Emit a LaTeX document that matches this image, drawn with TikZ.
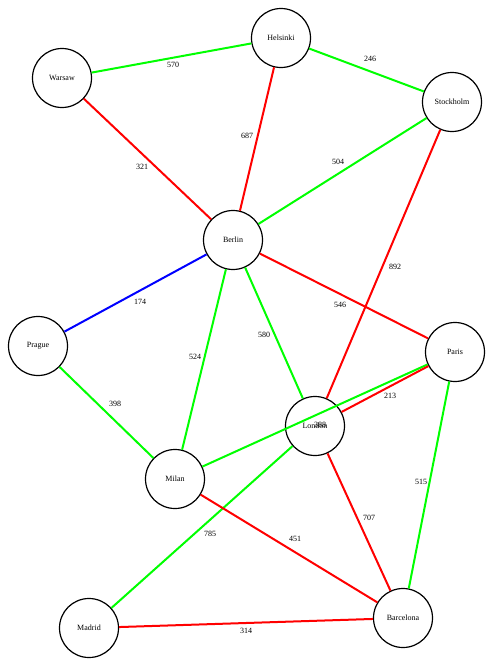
\documentclass[tikz,border=0pt]{standalone}
\usepackage{fontspec}
\setmainfont{Liberation Serif}
\begin{document}
\begin{tikzpicture}[x=1pt,y=-1pt,
  city/.style={circle,draw=black,line width=1.2pt,minimum size=59pt,inner sep=0pt,fill=white,font=\fontsize{8}{9}\selectfont},
  dist/.style={font=\fontsize{8}{9}\selectfont,inner sep=0.5pt},
  road/.style={line width=2pt},
  gr/.style={road,draw={rgb,255:red,0;green,255;blue,0}},
  rd/.style={road,draw={rgb,255:red,255;green,0;blue,0}},
  bl/.style={road,draw={rgb,255:red,0;green,0;blue,255}}]
\useasboundingbox (0,0) rectangle (494,667);
% cities
\node[city] (hel) at (281,38) {Helsinki};
\node[city] (war) at (62,78) {Warsaw};
\node[city] (sto) at (452,102) {Stockholm};
\node[city] (ber) at (233,240) {Berlin};
\node[city] (pra) at (38,346) {Prague};
\node[city] (par) at (455,352) {Paris};
\node[city] (lon) at (315,426) {London};
\node[city] (mil) at (175,479) {Milan};
\node[city] (mad) at (89,628) {Madrid};
\node[city] (bar) at (403,618) {Barcelona};
% roads between the cities
\draw[gr] (war) -- (hel);
\draw[gr] (hel) -- (sto);
\draw[rd] (war) -- (ber);
\draw[rd] (hel) -- (ber);
\draw[gr] (sto) -- (ber);
\draw[rd] (sto) -- (lon);
\draw[rd] (ber) -- (par);
\draw[bl] (ber) -- (pra);
\draw[gr] (ber) -- (mil);
\draw[gr] (ber) -- (lon);
\draw[gr] (pra) -- (mil);
\draw[gr] (par) -- (mil);
\draw[rd] (par) -- (lon);
\draw[gr] (par) -- (bar);
\draw[gr] (lon) -- (mad);
\draw[rd] (lon) -- (bar);
\draw[rd] (mil) -- (bar);
\draw[rd] (mad) -- (bar);
% distances
\node[dist] (l570) at (173,65) {570};
\node[dist] (l246) at (370,59) {246};
\node[dist] (l321) at (142,167) {321};
\node[dist] (l687) at (247,136) {687};
\node[dist] (l504) at (338,162) {504};
\node[dist] (l892) at (395,267) {892};
\node[dist] (l546) at (340,305) {546};
\node[dist] (l174) at (140,302) {174};
\node[dist] (l524) at (195,357) {524};
\node[dist] (l580) at (264,335) {580};
\node[dist] (l398) at (115,404) {398};
\node[dist] (l388) at (320,425) {388};
\node[dist] (l213) at (390,396) {213};
\node[dist] (l515) at (421,482) {515};
\node[dist] (l785) at (210,534) {785};
\node[dist] (l707) at (369,518) {707};
\node[dist] (l451) at (295,539) {451};
\node[dist] (l314) at (246,631) {314};
\end{tikzpicture}
\end{document}
